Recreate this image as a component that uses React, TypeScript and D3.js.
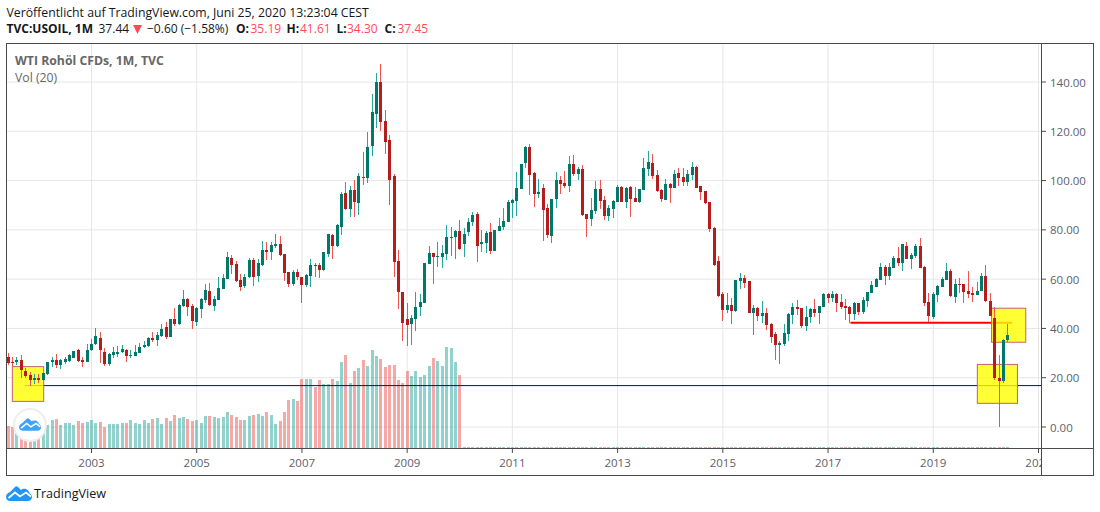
import React from 'react';
import * as d3 from 'd3';

// monthly candles, first one is June 2001
const opens = [
  28.5, 26.3, 26.2, 27, 22.7, 21.1, 19.2, 19.9, 19.1, 21.5,
  26.2, 27.3, 25.1, 26.3, 26.8, 28.1, 31.2, 27.3, 26.5, 31.3,
  33.6, 36, 30.4, 25.5, 29.3, 29.8, 30.5, 31.2, 28.8, 29,
  30.1, 32.3, 33, 36.2, 35.3, 36.9, 40.6, 36.7, 43.8, 41.8,
  49.1, 52, 49.1, 42.6, 47.9, 51.5, 55.2, 49.1, 51.5, 56,
  60, 68.6, 66.1, 59.7, 57.2, 60.9, 67.8, 61.3, 65.7, 71.8,
  71, 73.5, 74.3, 70.2, 62.9, 58, 62.9, 60.9, 57.6, 61.3,
  65.7, 65.7, 63.7, 70.2, 77.9, 73.4, 81.2, 95, 88.5, 96.2,
  90.9, 101.4, 101, 114, 127, 140, 124.2, 116.5, 101.9, 67.4,
  54.8, 43.8, 41.8, 43.8, 48.7, 50.3, 66.1, 70.6, 69, 69,
  70.2, 76.7, 77.1, 79.5, 74.3, 79.1, 83.2, 86.4, 74.2, 74.6,
  79.1, 71.4, 79.5, 81.1, 83.2, 90.9, 91.7, 96.6, 107.1, 113.6,
  103, 94.5, 97, 88.8, 77.5, 92.5, 100.2, 99, 97.8, 106.7,
  102.6, 104.7, 86.4, 84.4, 87.6, 96.6, 92.1, 85.6, 88.4, 91.3,
  97.4, 91.3, 97.4, 92.9, 91.3, 96.1, 104.7, 107.1, 102.2, 96.1,
  92.1, 98.6, 97, 103, 101.4, 99.4, 102.2, 105.5, 97.8, 95.7,
  91.3, 80.7, 67.3, 53.9, 47.4, 49.5, 47, 59.2, 60.4, 59.2,
  46.2, 48.3, 45, 46.2, 41.8, 37.7, 33.2, 33.7, 37.7, 45.4,
  48.7, 48.3, 41, 44.6, 47.9, 46.2, 48.7, 53.9, 52.3, 53.9,
  50.7, 49.1, 48.7, 45.8, 50.3, 46.6, 51.1, 54.4, 56.8, 59.6,
  64.9, 61.3, 64.5, 68.6, 66.6, 73.5, 68.2, 69.4, 73.5, 64.9,
  50.7, 44.6, 53.6, 56.8, 59.7, 63.3, 52.8, 58, 58, 55.2,
  54.4, 53.6, 55.2, 61.3, 51.1, 44.2, 19.9, 18.7, 35.19
];
const closes = [
  26.1, 26, 27, 23.3, 20.6, 19, 19.8, 19.1, 21.9, 26.3,
  27.3, 25.3, 27, 27.5, 29.2, 30.7, 26.8, 26.5, 31.2, 33.7,
  36.9, 31.3, 25.5, 29.5, 30.6, 30.6, 31.6, 28.8, 29.2, 30.4,
  32.5, 33.2, 36, 35.2, 37.3, 39.8, 36.7, 43.8, 41.8, 49.5,
  52, 48.7, 43, 48.3, 52, 55.6, 49.5, 52, 56.4, 60.5,
  69, 65.7, 59.2, 56.8, 60.9, 67.8, 60.9, 66.6, 71.8, 71,
  73.9, 74.3, 69.8, 62.5, 58, 62.9, 60.9, 57.6, 61.7, 65.7,
  65.3, 63.7, 70.9, 78.2, 73.4, 82, 94.6, 88.5, 96.2, 91.3,
  101.9, 101, 113.6, 127.8, 140, 123.8, 115.7, 100.2, 67, 54.8,
  42.2, 41.4, 44.2, 48.7, 50.7, 66.5, 70.6, 69, 69.4, 70.6,
  77.1, 77.1, 79.5, 72.2, 78.3, 83.2, 86, 73.4, 75, 78.7,
  71.4, 79.9, 81.5, 83.6, 91.3, 92.1, 97, 106.7, 113.6, 102.2,
  94.5, 95.3, 88, 77.9, 92.5, 100.2, 98.6, 97.8, 106.7, 102.6,
  104.7, 86, 84.4, 88, 96.6, 91.7, 85.6, 88.8, 91.7, 97.4,
  91.3, 97, 92.5, 91.3, 96.6, 105.1, 107.5, 101.8, 95.7, 92.5,
  98.6, 97, 102.6, 101, 99.4, 102.6, 105.5, 97, 95.3, 90.9,
  80.3, 65.7, 53.1, 47.4, 49.5, 47, 59.6, 60.4, 58.4, 46.2,
  48.3, 45, 46.2, 41.4, 36.5, 33.2, 34.1, 38.1, 45.8, 48.7,
  47.9, 41, 44.6, 47.9, 46.2, 49.1, 53.9, 52.3, 53.9, 50.3,
  48.7, 48.3, 45.8, 50.3, 46.6, 51.5, 54.8, 57.6, 60, 64.9,
  61.3, 64.9, 68.6, 66.6, 74.3, 68.2, 69.8, 73.5, 64.5, 50.3,
  45, 54, 57.2, 60, 63.3, 53.2, 58, 57.6, 54.8, 54,
  53.6, 55.2, 61.3, 51.1, 45, 19.9, 18.7, 35.3, 37.45
];
const highs = [
  29.9, 28.3, 28.5, 29.2, 23.8, 22.2, 21.5, 21.4, 22, 26.5,
  28.5, 29.5, 27.4, 28.5, 29.5, 31, 31.5, 28.3, 33.5, 35.6,
  40, 38.4, 32, 29.9, 32.5, 32.8, 33.4, 31.6, 31.2, 33.2,
  34, 35, 36.5, 38.4, 38.6, 41.8, 42.7, 43.9, 48.2, 49.9,
  55.6, 52.2, 49.9, 48.5, 52.3, 58, 58.4, 53.2, 60.9, 62.1,
  71, 69.8, 67.4, 62.1, 62.1, 68.6, 68.6, 68.2, 75.5, 75.1,
  75.1, 78.3, 77.5, 70.2, 63, 63.7, 64.1, 60.9, 62.1, 68.2,
  66.5, 66.5, 71, 78.3, 78.3, 82.4, 95.4, 99.4, 97.8, 100.2,
  103.1, 111.6, 119.7, 135.1, 143.7, 147.3, 128.6, 118.5, 102.7, 71.8,
  54.8, 50.3, 45.4, 54.8, 54, 66.5, 73.4, 70.6, 75, 74,
  82, 81.2, 79.9, 84, 80.8, 84.8, 87.2, 87.2, 79.9, 79.5,
  82.7, 79.9, 84.8, 88.8, 92.1, 92.5, 103.5, 106.7, 114, 114.8,
  103.5, 100.6, 98.6, 90.5, 92.5, 103.5, 101.8, 103.9, 110, 110.4,
  105.5, 106.3, 86.4, 92.9, 99.8, 100.2, 93.7, 90.1, 92.1, 98.2,
  97.8, 97.4, 97.8, 97.4, 96.6, 109.1, 112, 110.8, 104.3, 96.6,
  100.6, 99, 104.3, 105.1, 105.1, 104.3, 107.5, 105.9, 97.8, 95.7,
  91.5, 81.1, 69.4, 54.8, 54.4, 52.3, 59.6, 62.5, 61.7, 59.2,
  49.5, 48.7, 51.1, 48.3, 42.2, 38.5, 34.9, 41.8, 46.2, 50.3,
  51.5, 48.3, 49.1, 48.3, 51.9, 49.1, 54.4, 54.4, 55.2, 54.4,
  53.9, 51.9, 49.1, 50.7, 50.3, 52.7, 54.8, 59.2, 60.4, 66.5,
  65.7, 66.5, 69.4, 73, 74.3, 75.1, 70.6, 74.3, 76.7, 65.3,
  54.4, 54.8, 57.6, 60.9, 66.5, 64.1, 60, 60.5, 58, 63.3,
  56.8, 58.8, 62.5, 65.7, 54.4, 48.7, 29.2, 35.7, 41.61
];
const lows = [
  25.2, 24.8, 25.2, 20, 19.7, 16.6, 17.4, 17.7, 18.8, 21.3,
  24.5, 23.8, 23.6, 25.7, 26.5, 27.9, 26.4, 24.4, 26.5, 31,
  33.3, 25.8, 24.6, 24.8, 28, 28.6, 30.2, 26.4, 27.8, 28.7,
  29.9, 32.2, 32.5, 34.6, 32.9, 36.6, 35.6, 36.6, 41, 41.4,
  48.6, 45, 39.8, 41, 44.2, 50.5, 49.1, 47, 51.5, 56,
  60, 62.1, 58.8, 55.2, 56.4, 60.5, 57.2, 58.8, 65.3, 67.8,
  67.8, 72.6, 69.4, 59.2, 56.8, 57.2, 59.7, 50.3, 56.8, 56.8,
  60.9, 60.5, 63.3, 69, 68.2, 73, 77.9, 88, 85.2, 85.2,
  86, 98.2, 99, 110, 121.3, 120.1, 110.8, 90.1, 60.9, 47.9,
  34.9, 32.9, 33.3, 38.9, 45, 50.3, 66.1, 58, 64.9, 64.5,
  67.8, 69.4, 68.2, 71.8, 69, 77.5, 81.6, 67, 71, 70.6,
  70.2, 71.4, 79.5, 79.9, 83.2, 84.8, 85.6, 96.6, 105.1, 94.1,
  89.2, 92.9, 75.4, 76.7, 74.6, 88.8, 94.5, 97, 95.3, 101.8,
  100.2, 85.6, 77, 81.5, 86.4, 88.4, 84, 83.6, 84.8, 91.3,
  91.3, 88.8, 85.2, 91.3, 90.9, 96.1, 101.8, 100.6, 95.3, 91.3,
  92.1, 90.9, 97, 97.8, 97.8, 97.8, 100.2, 97, 92.1, 90.5,
  79.1, 65.3, 52.7, 43, 46.2, 41.8, 46.6, 56, 56.4, 46.2,
  37.3, 43, 42.2, 39.3, 34.1, 27.2, 25.5, 32.8, 34.9, 41.8,
  45.4, 40.1, 38.9, 42.2, 44.6, 41.8, 48.7, 50.3, 50.7, 46.6,
  47.9, 43.4, 42.2, 43.4, 45.4, 45.8, 48.7, 54.4, 56.8, 59.6,
  57.6, 59.7, 64.5, 65.3, 63.3, 68.2, 64.1, 68.6, 64.5, 49.1,
  42.6, 43.8, 50.7, 56.8, 59.7, 52.8, 50.3, 54.4, 50.3, 52.3,
  50.7, 53.6, 55.2, 50.7, 45, 19, 0, 17.9, 34.3
];
// the feed's volume nearly vanishes after early 2010
const volumes = [
  21.7, 21, 15, 14, 9, 7, 7, 9, 15, 23,
  28, 29, 23, 25, 25, 23, 27, 25, 26, 28,
  25, 26, 21, 24, 24, 24, 25, 25, 28, 25,
  24, 28, 25, 29, 30, 24, 30, 27, 33, 30,
  31, 29, 27, 28, 25, 32, 32, 31, 30, 31,
  36, 33, 31, 28, 28, 32, 33, 34, 32, 36,
  33, 24, 27, 36, 48, 49, 47, 69, 69, 69,
  61, 68, 64, 64, 69, 67, 86, 93, 65, 77,
  80, 88, 82, 98, 92, 89, 81, 83, 83, 68,
  65, 77, 72, 77, 71, 73, 82, 90, 87, 82,
  101, 100, 86, 73, 1.2, 1.2, 1.2, 1.2, 1.2, 1.2,
  1.2, 1.2, 1.2, 1.2, 1.2, 1.2, 1.2, 1.2, 1.2, 1.2,
  1.2, 1.2, 1.2, 1.2, 1.2, 1.2, 1.2, 1.2, 1.2, 1.2,
  1.2, 1.2, 1.2, 1.2, 1.2, 1.2, 1.2, 1.2, 1.2, 1.2,
  1.2, 1.2, 1.2, 1.2, 1.2, 1.2, 1.2, 1.2, 1.2, 1.2,
  1.2, 1.2, 1.2, 1.2, 1.2, 1.2, 1.2, 1.2, 1.2, 1.2,
  1.2, 1.2, 1.2, 1.2, 1.2, 1.2, 1.2, 1.2, 1.2, 1.2,
  1.2, 1.2, 1.2, 1.2, 1.2, 1.2, 1.2, 1.2, 1.2, 1.2,
  1.2, 1.2, 1.2, 1.2, 1.2, 1.2, 1.2, 1.2, 1.2, 1.2,
  1.2, 1.2, 1.2, 1.2, 1.2, 1.2, 1.2, 1.2, 1.2, 1.2,
  1.2, 1.2, 1.2, 1.2, 1.2, 1.2, 1.2, 1.2, 1.2, 1.2,
  1.2, 1.2, 1.2, 1.2, 1.2, 1.2, 1.2, 1.2, 1.2, 1.2,
  1.2, 1.2, 1.2, 1.2, 1.2, 1.2, 1.2, 1.2, 1.2
];
const priceTicks = [0, 20, 40, 60, 80, 100, 120, 140];
const yearTicks = [2003, 2005, 2007, 2009, 2011, 2013, 2015, 2017, 2019, 2021];

// drawings, in months since June 2001 and in dollars
const boxes = [
  { from: 0.94, to: 8.1, top: 24.5, bottom: 10.4 },
  { from: 221.05, to: 230.2, top: 25.4, bottom: 9.6 },
  { from: 224.3, to: 232.1, top: 48.2, bottom: 34.4 }
];
const redLine = { from: 192.1, to: 229, price: 42.35 };
const blueLine = { from: 3.8, price: 16.8 };

const font = '"Open Sans", sans-serif';
const upBody = '#00796b';
const upWick = '#26a69a';
const downBody = '#b71c1c';
const downWick = '#ef5350';
const quoteRed = '#ff4a5a';

const pane = { left: 7, top: 44, right: 1041, bottom: 448 };

const x = d3.scaleLinear().domain([0, 228]).range([8.2, 1007.8]);
const y = d3.scaleLinear().domain([0, 140]).range([427, 82]);
const yVol = d3.scaleLinear().domain([0, 101]).range([pane.bottom, 347]);
const yearIndex = (year: number) => (year - 2001) * 12 - 5;

const LOGO_CLOUD = 'M0 11C0 8 2 7 4 6L9 1C10 0 11 0 12 1L15 4C16 3 18 2.5 20 3C22 4 23 5 23.5 7C25 7.5 26 9.5 26 11C26 13.5 24 15 22 15L4 15C1.5 15 0 13 0 11Z';
const LOGO_ZIGZAG = 'M2.5 12L9 6.5L14 10.5L20 6.5L25 10.5';

const Logo = ({ tx, ty, scale, fill }: any) => (
  <g transform={`translate(${tx},${ty}) scale(${scale})`}>
    <path d={LOGO_CLOUD} fill={fill} />
    <path d={LOGO_ZIGZAG} fill="none" stroke="#fff" strokeWidth={1.8} />
  </g>
);

const App = () => {
  const header = [
    { t: 'TVC:USOIL, 1M', x: 6.5, bold: true },
    { t: '37.44', x: 98.5 },
    { t: '−0.60 (−1.58%)', x: 147 },
    { t: 'O:', x: 236, bold: true },
    { t: '35.19', x: 250.5, red: true },
    { t: 'H:', x: 286.5, bold: true },
    { t: '41.61', x: 300, red: true },
    { t: 'L:', x: 336.5, bold: true },
    { t: '34.30', x: 347, red: true },
    { t: 'C:', x: 384.5, bold: true },
    { t: '37.45', x: 397.5, red: true }
  ];

  return (
    <svg
      width={1100}
      height={512}
      style={{ position: 'absolute', left: 0, top: 0, background: '#fff', fontFamily: font }}
    >
      <defs>
        <clipPath id="pane">
          <rect x={pane.left} y={pane.top} width={pane.right - pane.left} height={pane.bottom - pane.top} />
        </clipPath>
        <clipPath id="time-axis">
          <rect x={pane.left} y={pane.bottom} width={pane.right - pane.left} height={27} />
        </clipPath>
      </defs>

      <text x={6.5} y={17} fontSize={12.25} fill="#131722">
        Veröffentlicht auf TradingView.com, Juni 25, 2020 13:23:04 CEST
      </text>
      {header.map(d => (
        <text
          key={d.t}
          x={d.x}
          y={33}
          fontSize={12}
          fontWeight={d.bold ? 700 : 400}
          fill={d.red ? quoteRed : '#131722'}
        >
          {d.t}
        </text>
      ))}
      <polygon points="133,25 142,25 137.5,34" fill={quoteRed} />

      <g clipPath="url(#pane)">
        {/* grid */}
        {yearTicks.map(yr => (
          <line key={yr} x1={x(yearIndex(yr))} x2={x(yearIndex(yr))} y1={pane.top} y2={pane.bottom} stroke="#e6e6e6" />
        ))}
        {priceTicks.map(p => (
          <line key={p} x1={pane.left} x2={pane.right} y1={y(p)} y2={y(p)} stroke="#e6e6e6" />
        ))}

        {/* volume */}
        <g shapeRendering="crispEdges" opacity={0.5}>
          {volumes.map((v, i) => (
            <rect
              key={i}
              x={Math.floor(x(i)) - 1}
              y={yVol(v)}
              width={3}
              height={pane.bottom - yVol(v)}
              fill={closes[i] >= opens[i] ? upWick : downWick}
            />
          ))}
        </g>

        {/* drawings */}
        <line x1={x(blueLine.from)} x2={pane.right} y1={y(blueLine.price)} y2={y(blueLine.price)} stroke="#0000c8" strokeWidth={1} />
        <line x1={x(redLine.from)} x2={x(redLine.to)} y1={y(redLine.price)} y2={y(redLine.price)} stroke="#ff0000" strokeWidth={2} />
        {boxes.map((b, i) => (
          <rect
            key={i}
            x={x(b.from)}
            y={y(b.top)}
            width={x(b.to) - x(b.from)}
            height={y(b.bottom) - y(b.top)}
            fill="#ffff00"
            fillOpacity={0.8}
            stroke="#c2607a"
          />
        ))}

        {/* candles */}
        <g shapeRendering="crispEdges">
          {opens.map((o, i) => {
            const c = closes[i];
            const up = c >= o;
            const px = Math.floor(x(i));
            const top = y(Math.max(o, c));
            const h = Math.max(1, y(Math.min(o, c)) - top);
            return (
              <g key={i}>
                <rect x={px} y={y(highs[i])} width={1} height={y(lows[i]) - y(highs[i])} fill={up ? upWick : downWick} />
                <rect x={px - 1} y={top} width={3} height={h} fill={up ? upBody : downBody} />
              </g>
            );
          })}
        </g>

        <circle cx={30} cy={425} r={16} fill="#fff" fillOpacity={0.92} stroke="#eeeeee" strokeWidth={2} />
        <Logo tx={19} ty={418} scale={0.85} fill="#3fa4f5" />
      </g>

      <text x={15} y={65} fontSize={12.25} fontWeight={700} fill="#666">WTI Rohöl CFDs, 1M, TVC</text>
      <text x={15} y={82} fontSize={12.25} fill="#666">Vol (20)</text>

      {/* price axis */}
      {priceTicks.map(p => (
        <g key={p}>
          <line x1={pane.right} x2={pane.right + 5} y1={y(p)} y2={y(p)} stroke="#4a4a4a" />
          <text x={1050} y={y(p) + 4.5} fontSize={11.5} fill="#5d606b">{d3.format('.2f')(p)}</text>
        </g>
      ))}

      {/* time axis */}
      <g clipPath="url(#time-axis)">
        {yearTicks.map(yr => (
          <g key={yr}>
            <line x1={x(yearIndex(yr))} x2={x(yearIndex(yr))} y1={pane.bottom} y2={pane.bottom + 5} stroke="#4a4a4a" />
            <text x={x(yearIndex(yr))} y={467} fontSize={11.5} textAnchor="middle" fill="#5d606b">{yr}</text>
          </g>
        ))}
      </g>

      {/* frame */}
      <g stroke="#4a4a4a" fill="none" shapeRendering="crispEdges">
        <rect x={6} y={43} width={1087} height={432} />
        <line x1={pane.right} x2={pane.right} y1={43} y2={475} />
        <line x1={6} x2={1093} y1={pane.bottom} y2={pane.bottom} />
      </g>

      <Logo tx={6} ty={486} scale={1} fill="#2196f3" />
      <text x={34} y={498} fontSize={12.6} fill="#131722">TradingView</text>
    </svg>
  );
};

export default App;
